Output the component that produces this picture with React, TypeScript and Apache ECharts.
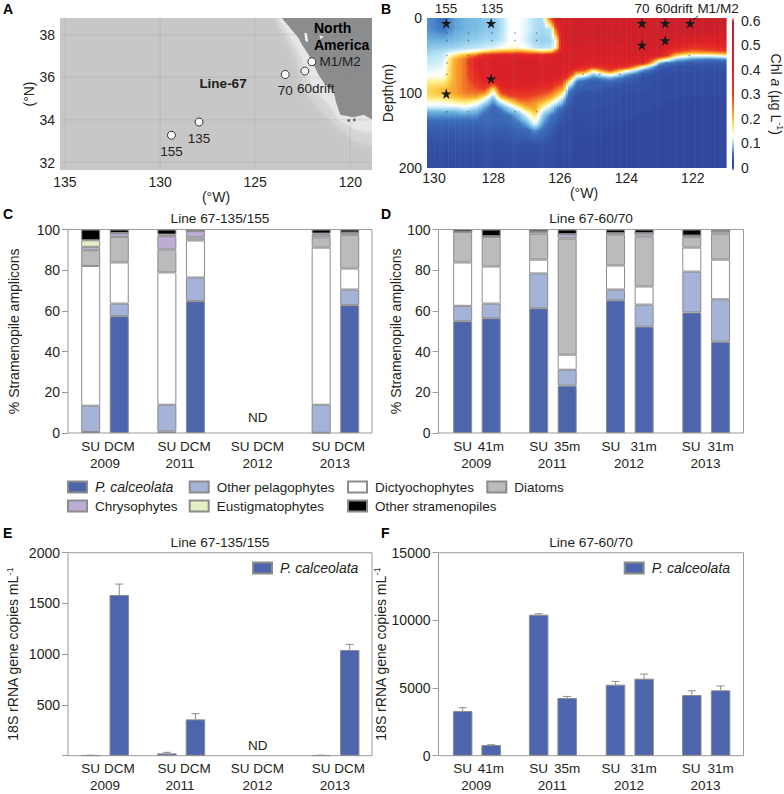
import React, { useEffect, useRef } from "react";
import * as echarts from "echarts";

const FONT = "Liberation Sans";
const TXT = "#231f20";
const FRAME = "#9b9b9b";

// ---- Panel A: stations and coast (longitude °W, latitude °N)
const stationNames = ["155", "135", "70", "60drift", "M1/M2"];
const stationLon = [129.4, 127.95, 123.42, 122.39, 122.02];
const stationLat = [33.28, 33.9, 36.13, 36.29, 36.73];
const landLon = [123.6, 123.16, 122.72, 122.54, 122.19, 121.93, 121.67, 121.32, 120.88, 120.74, 120.53, 119.82, 119.3, 118.86, 118.86];
const landLat = [38.78, 38.31, 37.84, 37.53, 37.06, 36.59, 36.12, 35.65, 35.34, 34.79, 34.24, 34.13, 34.24, 34.03, 38.78];
const shelfOuterLon = [123.95, 123.51, 123.16, 122.81, 122.63, 122.28, 121.58, 120.88, 119.82, 118.86, 118.86];
const shelfOuterLat = [38.78, 38.08, 37.45, 36.82, 36.04, 35.26, 34.47, 33.85, 33.06, 32.75, 38.78];
const shelfInnerLon = [123.77, 123.25, 122.89, 122.54, 122.28, 121.84, 121.14, 120.6, 119.8, 118.86, 118.86];
const shelfInnerLat = [38.78, 38.08, 37.53, 36.9, 36.12, 35.41, 34.79, 34.0, 33.6, 33.4, 38.78];
const bayLon = [122.42, 122.28, 122.22, 122.36];
const bayLat = [38.08, 38.08, 37.65, 37.7];
const bay2Lon = [121.62, 121.38, 121.58];
const bay2Lat = [37.97, 37.9, 37.8];
const islandLon = [120.09, 119.79];
const islandLat = [33.97, 34.0];
const lonTicks = [135, 130, 125, 120];
const latTicks = [32, 34, 36, 38];

// ---- Panel B: Chl a section (values in 0.01 µg/L; one line per longitude)
const chlDepths = [0, 15, 30, 40, 45, 50, 55, 60, 65, 70, 75, 80, 85, 90, 95, 100, 105, 110, 115, 120, 125, 130, 140, 150, 170, 200];
const chlLons = [130, 129.5, 129.15, 128.85, 128.5, 128.25, 128, 127.75, 127.5, 127.25, 127, 126.75, 126.5, 126.25, 126.1, 125.9, 125.75, 125.5, 125.25, 125, 124.5, 124, 123.5, 123, 122.75, 122.5, 122, 121.5, 121];
const chlColumns = [
  [7, 7, 8, 9, 10, 10.5, 11, 11, 12, 12, 13, 14, 16, 17, 18, 18, 17, 15, 13, 11, 8, 7, 5, 4, 3, 2],
  [5.5, 6, 8, 9.5, 10.5, 11, 11.5, 12, 12, 13, 13, 14, 16, 18, 20, 20, 18, 15, 13, 11, 8, 7, 5, 4, 3, 2],
  [7.5, 7.5, 8.5, 10, 12, 17, 21, 22, 22, 22, 22, 22, 22, 22, 22, 22, 20, 17, 14, 11, 8, 7, 5, 4, 3, 2],
  [8, 8, 9, 10.5, 13, 21, 26, 26, 26, 26, 26, 26, 26, 26, 26, 25, 22, 18, 15, 12, 9, 7, 5, 4, 3, 2],
  [8.5, 8.5, 9.5, 11, 15, 27, 38, 40, 40, 38, 36, 35, 32, 30, 28, 26, 22, 16, 13, 10, 8, 7, 5, 4, 3, 2],
  [9, 9, 10, 11.5, 18, 36, 42, 44, 44, 44, 44, 42, 40, 36, 30, 24, 16, 12, 9, 7, 6, 5, 5, 4, 3, 2],
  [9, 9, 10, 12, 20, 38, 42, 44, 44, 44, 43, 42, 36, 26, 16, 12, 9, 7, 6, 5, 5, 5, 5, 4, 3, 2],
  [10.5, 10.5, 11, 13, 22, 40, 44, 45, 45, 45, 44, 44, 42, 40, 36, 30, 22, 14, 10, 7, 6, 5, 5, 4, 3, 2],
  [13, 13, 13, 14, 22, 40, 45, 46, 46, 46, 45, 45, 44, 42, 38, 34, 28, 20, 14, 10, 8, 6, 5, 4, 3, 2],
  [13, 13, 13, 14, 24, 40, 44, 46, 46, 46, 46, 46, 44, 42, 38, 34, 30, 26, 20, 14, 10, 8, 6, 5, 3, 2],
  [12, 12, 11.5, 13, 22, 38, 44, 46, 46, 46, 46, 46, 44, 42, 38, 34, 30, 27, 24, 20, 15, 12, 8, 5, 3, 2],
  [10.5, 10.5, 10, 11, 20, 38, 44, 46, 46, 46, 46, 45, 44, 40, 36, 32, 28, 25, 23, 22, 20, 17, 13, 7, 3, 2],
  [10, 10, 9.5, 10.5, 18, 38, 44, 46, 46, 46, 45, 44, 42, 38, 34, 30, 26, 22, 18, 14, 11, 9, 7, 5, 3, 2],
  [30, 11, 10, 11, 20, 40, 45, 46, 46, 46, 45, 44, 40, 36, 30, 26, 22, 17, 13, 10, 8, 6, 5, 4, 3, 2],
  [45, 30, 14, 15, 30, 46, 46, 46, 46, 46, 45, 42, 36, 30, 26, 22, 18, 13, 10, 7, 6, 5, 4, 3, 2, 1],
  [48, 48, 46, 46, 46, 47, 47, 47, 47, 46, 42, 36, 30, 26, 22, 16, 12, 9, 7, 5, 4, 3, 3, 2, 2, 1],
  [50, 50, 48, 47, 47, 47, 47, 47, 46, 42, 36, 28, 18, 12, 8, 6, 5, 4, 4, 3, 3, 3, 2, 2, 2, 1],
  [52, 52, 50, 48, 48, 47, 47, 46, 40, 30, 18, 10, 6, 5, 4, 4, 3, 3, 3, 3, 3, 2, 2, 2, 1, 1],
  [52, 52, 50, 48, 47, 46, 44, 40, 36, 28, 15, 8, 5, 4, 4, 3, 3, 3, 3, 3, 3, 2, 2, 2, 1, 1],
  [52, 52, 50, 48, 47, 46, 44, 40, 34, 16, 9, 6, 4, 4, 4, 3, 3, 3, 3, 3, 2, 2, 2, 2, 1, 1],
  [52, 52, 50, 48, 47, 46, 44, 42, 38, 30, 15, 8, 5, 4, 3, 3, 3, 3, 3, 2, 2, 2, 2, 1, 1, 1],
  [52, 52, 50, 48, 47, 46, 44, 42, 34, 15, 8, 5, 4, 3, 3, 3, 2, 2, 2, 2, 2, 2, 1, 1, 1, 1],
  [53, 53, 52, 50, 48, 47, 44, 36, 14, 7, 4, 3, 3, 3, 3, 2, 2, 2, 2, 2, 2, 1, 1, 1, 1, 1],
  [54, 54, 52, 50, 46, 40, 20, 8, 4, 3, 3, 3, 2, 2, 2, 2, 2, 2, 2, 1, 1, 1, 1, 1, 1, 1],
  [55, 55, 50, 42, 36, 30, 14, 6, 4, 3, 3, 2, 2, 2, 2, 2, 2, 2, 1, 1, 1, 1, 1, 1, 1, 1],
  [55, 55, 48, 38, 30, 18, 9, 5, 3, 3, 2, 2, 2, 2, 2, 2, 2, 1, 1, 1, 1, 1, 1, 1, 1, 1],
  [56, 56, 42, 32, 24, 13, 7, 4, 3, 3, 2, 2, 2, 2, 2, 2, 1, 1, 1, 1, 1, 1, 1, 1, 1, 1],
  [56, 56, 44, 34, 26, 13, 6, 4, 3, 3, 2, 2, 2, 2, 2, 2, 1, 1, 1, 1, 1, 1, 1, 1, 1, 1],
  [56, 56, 45, 36, 28, 15, 7, 4, 3, 3, 2, 2, 2, 2, 2, 2, 1, 1, 1, 1, 1, 1, 1, 1, 1, 1],
];
const starLon = [129.42, 128.07, 123.53, 122.83, 122.08, 123.53, 122.83, 128.07, 129.42];
const starDepth = [7, 7, 7, 7, 7, 36, 30, 81, 101];
const castLon = [129.4, 128.75, 128.05, 127.35, 126.7, 125.6, 125.3, 124.8, 124.2, 123.5, 122.8, 122.1];
const castDepth = [20, 30, 50, 60, 75, 125];
const sectionLabels = ["155", "135", "70", "60drift", "M1/M2"];
const sectionLonTicks = [129.79, 128, 126, 124, 122];
const sectionLonNames = ["130", "128", "126", "124", "122"];
const chlTicks = [0, 0.1, 0.2, 0.3, 0.4, 0.5, 0.6];

// ---- Panels C and D: % stramenopile amplicons
const taxa = ["P. calceolata", "Other pelagophytes", "Dictyochophytes", "Diatoms", "Chrysophytes", "Eustigmatophytes", "Other stramenopiles"];
const cPcal = [0.5, 57.4, 0.8, 64.8, 0.1, 62.8];
const cOtherPel = [12.9, 6.2, 13.1, 11.6, 13.8, 7.7];
const cDictyo = [68.7, 20.2, 65, 18.2, 77.2, 10.3];
const cDiatoms = [7.7, 12.6, 11.3, 1.5, 5, 16.6];
const cChryso = [1.7, 1.8, 6.5, 3.1, 1.4, 1];
const cEustig = [3.2, 0.1, 0.8, 0, 0.5, 0.1];
const cOther = [5.3, 1.7, 2.5, 0.8, 2, 1.5];
const dPcal = [54.9, 56.4, 61.3, 23.3, 65.2, 52.3, 59.2, 44.9];
const dOtherPel = [7.6, 7.2, 17.1, 7.8, 5.3, 10.8, 20.1, 20.8];
const dDictyo = [21.3, 18.2, 6.8, 7.4, 11.8, 8.9, 11.8, 19.5];
const dDiatoms = [15.1, 14.6, 12.8, 57.1, 15.2, 24.6, 5.1, 12.8];
const dChryso = [0, 0.3, 1, 2.1, 0.7, 1.6, 0.8, 1.2];
const dEustig = [0, 0, 0, 0, 0, 0, 0, 0];
const dOther = [1.1, 3.3, 1, 2.3, 1.8, 1.8, 3, 0.8];

// ---- Panels E and F: 18S copies per mL
const eValues = [3, 1583, 23, 358, 3, 1041];
const eUpper = [5, 1691, 33, 414, 5, 1097];
const fValues = [3300, 790, 10420, 4260, 5250, 5690, 4480, 4830];
const fUpper = [3550, 810, 10490, 4380, 5490, 6030, 4800, 5150];

// ---- Bar placement along the hidden x scale, and sample labels
const leftBarSlots = [0, 1, 2.667, 3.667, 8.07, 9.07];
const rightBarSlots = [0, 1, 2.667, 3.667, 5.363, 6.368, 8.04, 9.05];
const leftLabelSlots = [0, 1, 2.667, 3.667, 5.23, 6.23, 8.07, 9.07];
const leftLabels = ["SU", "DCM", "SU", "DCM", "SU", "DCM", "SU", "DCM"];
const leftYearSlots = [0.5, 3.13, 5.84, 8.55];
const rightLabelSlots = [0, 0.99, 2.667, 3.667, 5.2, 6.35, 8.02, 9.05];
const rightLabels = ["SU", "41m", "SU", "35m", "SU", "31m", "SU", "31m"];
const rightYearSlots = [0.48, 3.14, 5.84, 8.52];
const years = ["2009", "2011", "2012", "2013"];

const colors = ["#4c65ad", "#a4b3d7", "#ffffff", "#b9bbbd", "#bcadd5", "#e3efc4", "#000000"];

const chlStops: [number, number[]][] = [
  [0, [46, 68, 153]], [3, [50, 80, 165]], [6, [62, 115, 190]], [8, [110, 180, 225]], [11, [190, 232, 248]],
  [13, [255, 255, 255]], [16, [255, 240, 140]], [20, [252, 190, 50]], [25, [244, 125, 40]], [30, [232, 60, 35]],
  [40, [224, 32, 38]], [60, [196, 32, 44]],
];
function chlColor(v: number) {
  const c = Math.max(0, Math.min(60, v));
  for (let i = 1; i < chlStops.length; i++) {
    if (c <= chlStops[i][0]) {
      const [a, ca] = chlStops[i - 1];
      const [b, cb] = chlStops[i];
      const t = (c - a) / (b - a);
      return `rgb(${ca.map((x, k) => Math.round(x + (cb[k] - x) * t)).join(",")})`;
    }
  }
  return "rgb(196,32,44)";
}

// The section is shaded between the read values, as a contour plot does.
function sectionStrips() {
  const strips: { a: number; b: number; col: number; t0: number }[] = [];
  for (let i = 0; i < chlLons.length - 1; i++) {
    const w = chlLons[i] - chlLons[i + 1];
    const n = Math.max(1, Math.round(w / 0.07));
    for (let k = 0; k < n; k++) {
      strips.push({ a: chlLons[i] - (w * k) / n, b: chlLons[i] - (w * (k + 1)) / n, col: i, t0: (k + 0.5) / n });
    }
  }
  return strips;
}
const strips = sectionStrips();

function stripGradient(col: number, t: number) {
  const stops: { offset: number; color: string }[] = [];
  const A = chlColumns[col];
  const B = chlColumns[col + 1];
  for (let r = 0; r < chlDepths.length - 1; r++) {
    const n = 3;
    for (let s = 0; s < n; s++) {
      const f = s / n;
      const va = A[r] + (A[r + 1] - A[r]) * f;
      const vb = B[r] + (B[r + 1] - B[r]) * f;
      const d = chlDepths[r] + (chlDepths[r + 1] - chlDepths[r]) * f;
      stops.push({ offset: d / 200, color: chlColor(va + (vb - va) * t) });
    }
  }
  stops.push({ offset: 1, color: chlColor(A[A.length - 1]) });
  return new echarts.graphic.LinearGradient(0, 0, 0, 1, stops);
}

const polygonSeries = (lons: number[], lats: number[], fill: string, idx: number, z = 1, blur = 0) => ({
  type: "custom", xAxisIndex: idx, yAxisIndex: idx, silent: true, z, clip: true,
  data: lons.map((l, i) => [l, lats[i]]),
  encode: { x: 0, y: 1 },
  renderItem: (p: any, api: any) => {
    if (p.dataIndex !== 0) return null;
    return {
      type: "polygon", shape: { points: lons.map((l, i) => api.coord([l, lats[i]])) },
      style: { fill, shadowBlur: blur, shadowColor: blur ? fill : "transparent" },
    };
  },
});

const grids = [
  { left: 60, top: 18, width: 312, height: 152, show: true, backgroundColor: "#c7c7c7", borderWidth: 0 },
  { left: 427, top: 18, width: 299, height: 150, show: false },
  { left: 732, top: 20.5, width: 8, height: 147.5, show: false },
  { left: 68, top: 229.5, width: 304, height: 203.5, show: true, borderColor: FRAME, borderWidth: 1 },
  { left: 438.5, top: 229.5, width: 305, height: 203.5, show: true, borderColor: FRAME, borderWidth: 1 },
  { left: 68, top: 552.7, width: 304, height: 203, show: true, borderColor: FRAME, borderWidth: 1 },
  { left: 438.5, top: 552.7, width: 305, height: 203, show: true, borderColor: FRAME, borderWidth: 1 },
];

const labelStyle = { fontFamily: FONT, color: TXT, fontSize: 14 };
const superRich = { s: { fontFamily: FONT, fontSize: 9, color: TXT, padding: [0, 0, 7, 0] }, i: { fontFamily: FONT, fontSize: 14, color: TXT, fontStyle: "italic" } };

function barX(idx: number, lo: number, hi: number, slots: number[], names: string[], yearSlots: number[]) {
  return [
    {
      type: "value", gridIndex: idx, min: lo, max: hi, position: "bottom",
      axisLine: { show: false, onZero: false }, axisTick: { show: false }, splitLine: { show: false },
      axisLabel: {
        ...labelStyle, fontSize: 13.5, margin: 6,
        customValues: slots,
        formatter: (v: number) => names[slots.indexOf(v)] ?? "",
      },
    },
    {
      type: "value", gridIndex: idx, min: lo, max: hi, position: "bottom",
      axisLine: { show: false, onZero: false }, axisTick: { show: false }, splitLine: { show: false },
      axisLabel: {
        ...labelStyle, fontSize: 13.5, margin: 23,
        customValues: yearSlots,
        formatter: (v: number) => years[yearSlots.indexOf(v)] ?? "",
      },
    },
  ];
}

function barY(idx: number, max: number, interval: number, name: string, gap: number, hideZero = false) {
  return {
    type: "value", gridIndex: idx, position: "left", min: 0, max, interval, name, nameLocation: "middle", nameGap: gap,
    nameTextStyle: { ...labelStyle, rich: superRich },
    axisLine: { show: false, onZero: false }, axisTick: { show: true, length: 6, lineStyle: { color: FRAME } },
    splitLine: { show: false },
    axisLabel: { ...labelStyle, margin: 8, formatter: (v: number) => (hideZero && v === 0 ? "" : String(v)) },
  };
}

const barStyle = (fill: string) => ({ color: fill, borderColor: "#8c8c8c", borderWidth: 1 });

// Value first, slot second: ECharts stacks on the first numeric dimension.
function stacked(xi: number, yi: number, stack: string, slots: number[], rows: number[][]) {
  return rows.map((vals, k) => ({
    type: "bar", name: taxa[k], stack, xAxisIndex: xi, yAxisIndex: yi, barWidth: 19, silent: true,
    itemStyle: barStyle(colors[k]),
    encode: { x: 1, y: 0 },
    data: vals.map((v, i) => [v, slots[i]]),
  }));
}

function single(xi: number, yi: number, slots: number[], vals: number[]) {
  return {
    type: "bar", name: taxa[0], xAxisIndex: xi, yAxisIndex: yi, barWidth: 19.5, silent: true,
    itemStyle: barStyle(colors[0]), encode: { x: 1, y: 0 }, data: vals.map((v, i) => [v, slots[i]]),
  };
}

function errors(xi: number, yi: number, slots: number[], vals: number[], upper: number[]) {
  return {
    type: "custom", xAxisIndex: xi, yAxisIndex: yi, silent: true, z: 1,
    data: vals.map((v, i) => [slots[i], v, upper[i]]),
    encode: { x: 0, y: [1, 2] },
    renderItem: (_: any, api: any) => {
      const a = api.coord([api.value(0), api.value(1)]);
      const b = api.coord([api.value(0), api.value(2)]);
      const st = { stroke: "#8c8c8c", lineWidth: 1, fill: "none" };
      return {
        type: "group",
        children: [
          { type: "line", shape: { x1: a[0], y1: a[1], x2: b[0], y2: b[1] }, style: st },
          { type: "line", shape: { x1: b[0] - 4, y1: b[1], x2: b[0] + 4, y2: b[1] }, style: st },
        ],
      };
    },
  };
}

function noteSeries(xi: number, yi: number, x: number, y: number, text: string) {
  return {
    type: "scatter", xAxisIndex: xi, yAxisIndex: yi, symbolSize: 0, silent: true, data: [[x, y]],
    itemStyle: { opacity: 1 },
    label: { show: true, position: "inside", formatter: text, fontFamily: FONT, fontSize: 13.5, color: TXT, textBorderWidth: 0 },
  };
}

const legendAt = (name: string, left: number, top: number, italic = false) => {
  const fontSize = italic ? 14 : 13.5;
  return {
    left, top, padding: 0, itemWidth: 19, itemHeight: 11, selectedMode: false, icon: "rect", itemGap: 0,
    data: [{ name, textStyle: { fontFamily: FONT, fontSize, color: TXT, fontStyle: italic ? "italic" : "normal", padding: [0, 0, 0, 3] } }],
    textStyle: { fontFamily: FONT, fontSize, color: TXT },
  };
};

const panelLetters: [string, number, number][] = [["A", 3, 2], ["B", 381, 2], ["C", 3, 207], ["D", 381, 207], ["E", 3, 526], ["F", 381, 526]];
const panelTitles: [string, number, number][] = [["Line 67-135/155", 220, 211], ["Line 67-60/70", 591, 211], ["Line 67-135/155", 220, 535], ["Line 67-60/70", 591, 535]];

const textEl = (text: string, x: number, y: number, extra: any = {}) => ({
  type: "text", x, y, silent: true, z: 20,
  style: { text, fontFamily: FONT, fontSize: 13.5, fill: TXT, textAlign: "center", textVerticalAlign: "middle", ...extra },
});

const option: any = {
  animation: false,
  textStyle: { fontFamily: FONT },
  title: [
    ...panelLetters.map(([text, left, top]) => ({ text, left, top, padding: 0, textStyle: { fontFamily: FONT, fontSize: 14, fontWeight: "bold", color: "#000" } })),
    ...panelTitles.map(([text, left, top]) => ({ text, left, top, padding: 0, textAlign: "center", textStyle: { fontFamily: FONT, fontSize: 13.7, fontWeight: "normal", color: TXT } })),
  ],
  legend: [
    legendAt(taxa[0], 67, 480, true), legendAt(taxa[1], 188.7, 480), legendAt(taxa[2], 347, 480), legendAt(taxa[3], 486.3, 480),
    legendAt(taxa[4], 67, 499), legendAt(taxa[5], 188.7, 499), legendAt(taxa[6], 347, 499),
    legendAt(taxa[0], 252, 561, true), legendAt(taxa[0], 623.7, 561, true),
  ],
  grid: grids,
  xAxis: [
    {
      type: "value", gridIndex: 0, inverse: true, min: 118.86, max: 135.26, name: "(°W)", nameLocation: "middle", nameGap: 15,
      nameTextStyle: labelStyle, axisLine: { show: false, onZero: false }, axisTick: { show: false }, splitLine: { show: false },
      axisLabel: { ...labelStyle, margin: 5, customValues: lonTicks, formatter: (v: number) => String(v) },
    },
    {
      type: "value", gridIndex: 1, inverse: true, min: 121, max: 130, name: "(°W)", nameLocation: "middle", nameGap: 18,
      nameTextStyle: { ...labelStyle, padding: [0, 0, 0, 15] }, axisLine: { show: false, onZero: false }, axisTick: { show: false }, splitLine: { show: false },
      axisLabel: { ...labelStyle, margin: 3, customValues: sectionLonTicks, formatter: (v: number) => sectionLonNames[sectionLonTicks.indexOf(v)] ?? "" },
    },
    { type: "value", gridIndex: 2, min: 0, max: 1, show: false },
    ...barX(3, -0.795, 9.85, leftLabelSlots, leftLabels, leftYearSlots),
    ...barX(4, -0.848, 9.854, rightLabelSlots, rightLabels, rightYearSlots),
    ...barX(5, -0.795, 9.85, leftLabelSlots, leftLabels, leftYearSlots),
    ...barX(6, -0.848, 9.854, rightLabelSlots, rightLabels, rightYearSlots),
  ],
  yAxis: [
    {
      type: "value", gridIndex: 0, position: "left", min: 31.65, max: 38.78, name: "(°N)", nameLocation: "middle", nameGap: 23, nameTextStyle: labelStyle,
      axisLine: { show: false, onZero: false }, axisTick: { show: false }, splitLine: { show: false },
      axisLabel: { ...labelStyle, margin: 5, customValues: latTicks, formatter: (v: number) => String(v) },
    },
    {
      type: "value", gridIndex: 1, position: "left", inverse: true, min: 0, max: 200, interval: 100, name: "Depth(m)", nameLocation: "middle", nameGap: 32, nameTextStyle: labelStyle,
      axisLine: { show: false, onZero: false }, axisTick: { show: false }, splitLine: { show: false },
      axisLabel: { ...labelStyle, margin: 5 },
    },
    {
      type: "value", gridIndex: 2, position: "right", min: 0, max: 0.6, interval: 0.1, name: "Chl {i|a} (µg L{s|-1})", nameLocation: "middle", nameRotate: -90, nameGap: 34,
      nameTextStyle: { ...labelStyle, rich: superRich },
      axisLine: { show: false, onZero: false }, axisTick: { show: false }, splitLine: { show: false },
      axisLabel: { ...labelStyle, margin: 7, formatter: (v: number) => (chlTicks.includes(Math.round(v * 10) / 10) ? String(Math.round(v * 10) / 10) : "") },
    },
    barY(3, 100, 20, "% Stramenopile amplicons", 47),
    barY(4, 100, 20, "% Stramenopile amplicons", 35),
    barY(5, 2000, 500, "18S rRNA gene copies mL{s|-1}", 47, true),
    barY(6, 15000, 5000, "18S rRNA gene copies mL{s|-1}", 47),
  ],
  graphic: [
    textEl("Line-67", 223, 83, { fontWeight: "bold" }),
    textEl("North", 314, 28, { fontWeight: "bold", textAlign: "left", fontSize: 14, fill: "#000" }),
    textEl("America", 314, 45, { fontWeight: "bold", textAlign: "left", fontSize: 14, fill: "#000" }),
    textEl(sectionLabels[0], 446, 8),
    textEl(sectionLabels[1], 492, 8),
    textEl(sectionLabels[2], 642, 8),
    textEl(sectionLabels[3], 674, 8),
    textEl(sectionLabels[4], 718, 8),
    { type: "line", silent: true, z: 20, shape: { x1: 698, y1: 16, x2: 693, y2: 20 }, style: { stroke: "#000", lineWidth: 0.8 } },
  ],
  series: [
    // Panel A
    polygonSeries(shelfOuterLon, shelfOuterLat, "#d4d4d4", 0, 1, 10),
    polygonSeries(shelfInnerLon, shelfInnerLat, "#e6e6e6", 0, 2, 6),
    polygonSeries(landLon, landLat, "#8a8c8e", 0, 3),
    polygonSeries(bayLon, bayLat, "#f0f0f0", 0, 4),
    polygonSeries(bay2Lon, bay2Lat, "#f0f0f0", 0, 4),
    {
      type: "custom", xAxisIndex: 0, yAxisIndex: 0, silent: true, z: 4,
      data: [...lonTicks.map((l) => [l, 0]), ...latTicks.map((l) => [l, 1])],
      encode: { x: 0 },
      renderItem: (_: any, api: any) => {
        const v = api.value(0);
        const vert = api.value(1) === 0;
        const a = vert ? api.coord([v, 31.65]) : api.coord([135.26, v]);
        const b = vert ? api.coord([v, 38.78]) : api.coord([118.86, v]);
        return { type: "line", shape: { x1: a[0], y1: a[1], x2: b[0], y2: b[1] }, style: { stroke: "rgba(140,140,140,0.3)", lineWidth: 0.7 } };
      },
    },
    {
      type: "scatter", xAxisIndex: 0, yAxisIndex: 0, silent: true, z: 5, symbolSize: 3, itemStyle: { color: "#6b6b6b", opacity: 1 },
      data: islandLon.map((l, i) => [l, islandLat[i]]),
    },
    {
      type: "scatter", xAxisIndex: 0, yAxisIndex: 0, silent: true, z: 6, symbolSize: 8,
      itemStyle: { color: "#fff", borderColor: "#333", borderWidth: 1, opacity: 1 },
      data: stationLon.map((l, i) => ({
        value: [l, stationLat[i]],
        label: {
          show: true, formatter: stationNames[i], fontFamily: FONT, fontSize: 13.5, color: TXT, textBorderWidth: 0,
          position: i === 4 ? "right" : "bottom",
          distance: i === 4 ? 3 : 5,
          offset: i === 3 ? [11, 1] : [0, 0],
        },
      })),
    },
    // Panel B
    {
      type: "custom", xAxisIndex: 1, yAxisIndex: 1, silent: true, z: 1,
      data: strips.map((s) => [s.a, s.b]),
      encode: { x: [0, 1] },
      renderItem: (p: any, api: any) => {
        const s = strips[p.dataIndex];
        const a = api.coord([s.a, 0]);
        const b = api.coord([s.b, 200]);
        return { type: "rect", shape: { x: a[0], y: a[1], width: b[0] - a[0] + 0.6, height: b[1] - a[1] }, style: { fill: stripGradient(s.col, s.t0) } };
      },
    },
    {
      type: "scatter", xAxisIndex: 1, yAxisIndex: 1, silent: true, z: 3, symbolSize: 1.5, itemStyle: { color: "rgba(70,70,70,0.6)", opacity: 1 },
      data: castLon.flatMap((l) => castDepth.map((d) => [l, d])),
    },
    {
      type: "scatter", xAxisIndex: 1, yAxisIndex: 1, silent: true, z: 4, symbolSize: 10.5, itemStyle: { color: "#1a1a1a", opacity: 1 },
      symbol: "path://M50 0 L62 36 L100 36 L69 58 L81 95 L50 72 L19 95 L31 58 L0 36 L38 36 Z",
      data: starLon.map((l, i) => [l, starDepth[i]]),
    },
    // Colour bar
    {
      type: "custom", xAxisIndex: 2, yAxisIndex: 2, silent: true,
      data: [[0, 0.6]],
      encode: { y: 1 },
      renderItem: (_: any, api: any) => {
        const a = api.coord([0, 0.6]);
        const b = api.coord([1, 0]);
        const stops = [];
        for (let v = 0; v <= 60; v++) stops.push({ offset: 1 - v / 60, color: chlColor(v) });
        stops.reverse();
        return {
          type: "group",
          children: [
            { type: "rect", shape: { x: a[0], y: a[1], width: b[0] - a[0], height: b[1] - a[1] }, style: { fill: new echarts.graphic.LinearGradient(0, 0, 0, 1, stops) } },
            { type: "polygon", shape: { points: [[a[0], a[1]], [(a[0] + b[0]) / 2, a[1] - 3], [b[0], a[1]]] }, style: { fill: chlColor(60) } },
            { type: "polygon", shape: { points: [[a[0], b[1]], [(a[0] + b[0]) / 2, b[1] + 3], [b[0], b[1]]] }, style: { fill: chlColor(0) } },
          ],
        };
      },
    },
    // Panel C
    ...stacked(3, 3, "c", leftBarSlots, [cPcal, cOtherPel, cDictyo, cDiatoms, cChryso, cEustig, cOther]),
    noteSeries(3, 3, 5.85, 7.4, "ND"),
    // Panel D
    ...stacked(5, 4, "d", rightBarSlots, [dPcal, dOtherPel, dDictyo, dDiatoms, dChryso, dEustig, dOther]),
    // Panel E
    errors(7, 5, leftBarSlots, eValues, eUpper),
    single(7, 5, leftBarSlots, eValues),
    noteSeries(7, 5, 5.85, 105, "ND"),
    // Panel F
    errors(9, 6, rightBarSlots, fValues, fUpper),
    single(9, 6, rightBarSlots, fValues),
  ],
};

export default function App() {
  const ref = useRef<HTMLDivElement>(null);
  useEffect(() => {
    document.body.style.margin = "0";
    const chart = echarts.init(ref.current!, undefined, { renderer: "svg" });
    chart.setOption(option);
    return () => chart.dispose();
  }, []);
  return <div ref={ref} style={{ width: 784, height: 794, background: "#fff" }} />;
}
